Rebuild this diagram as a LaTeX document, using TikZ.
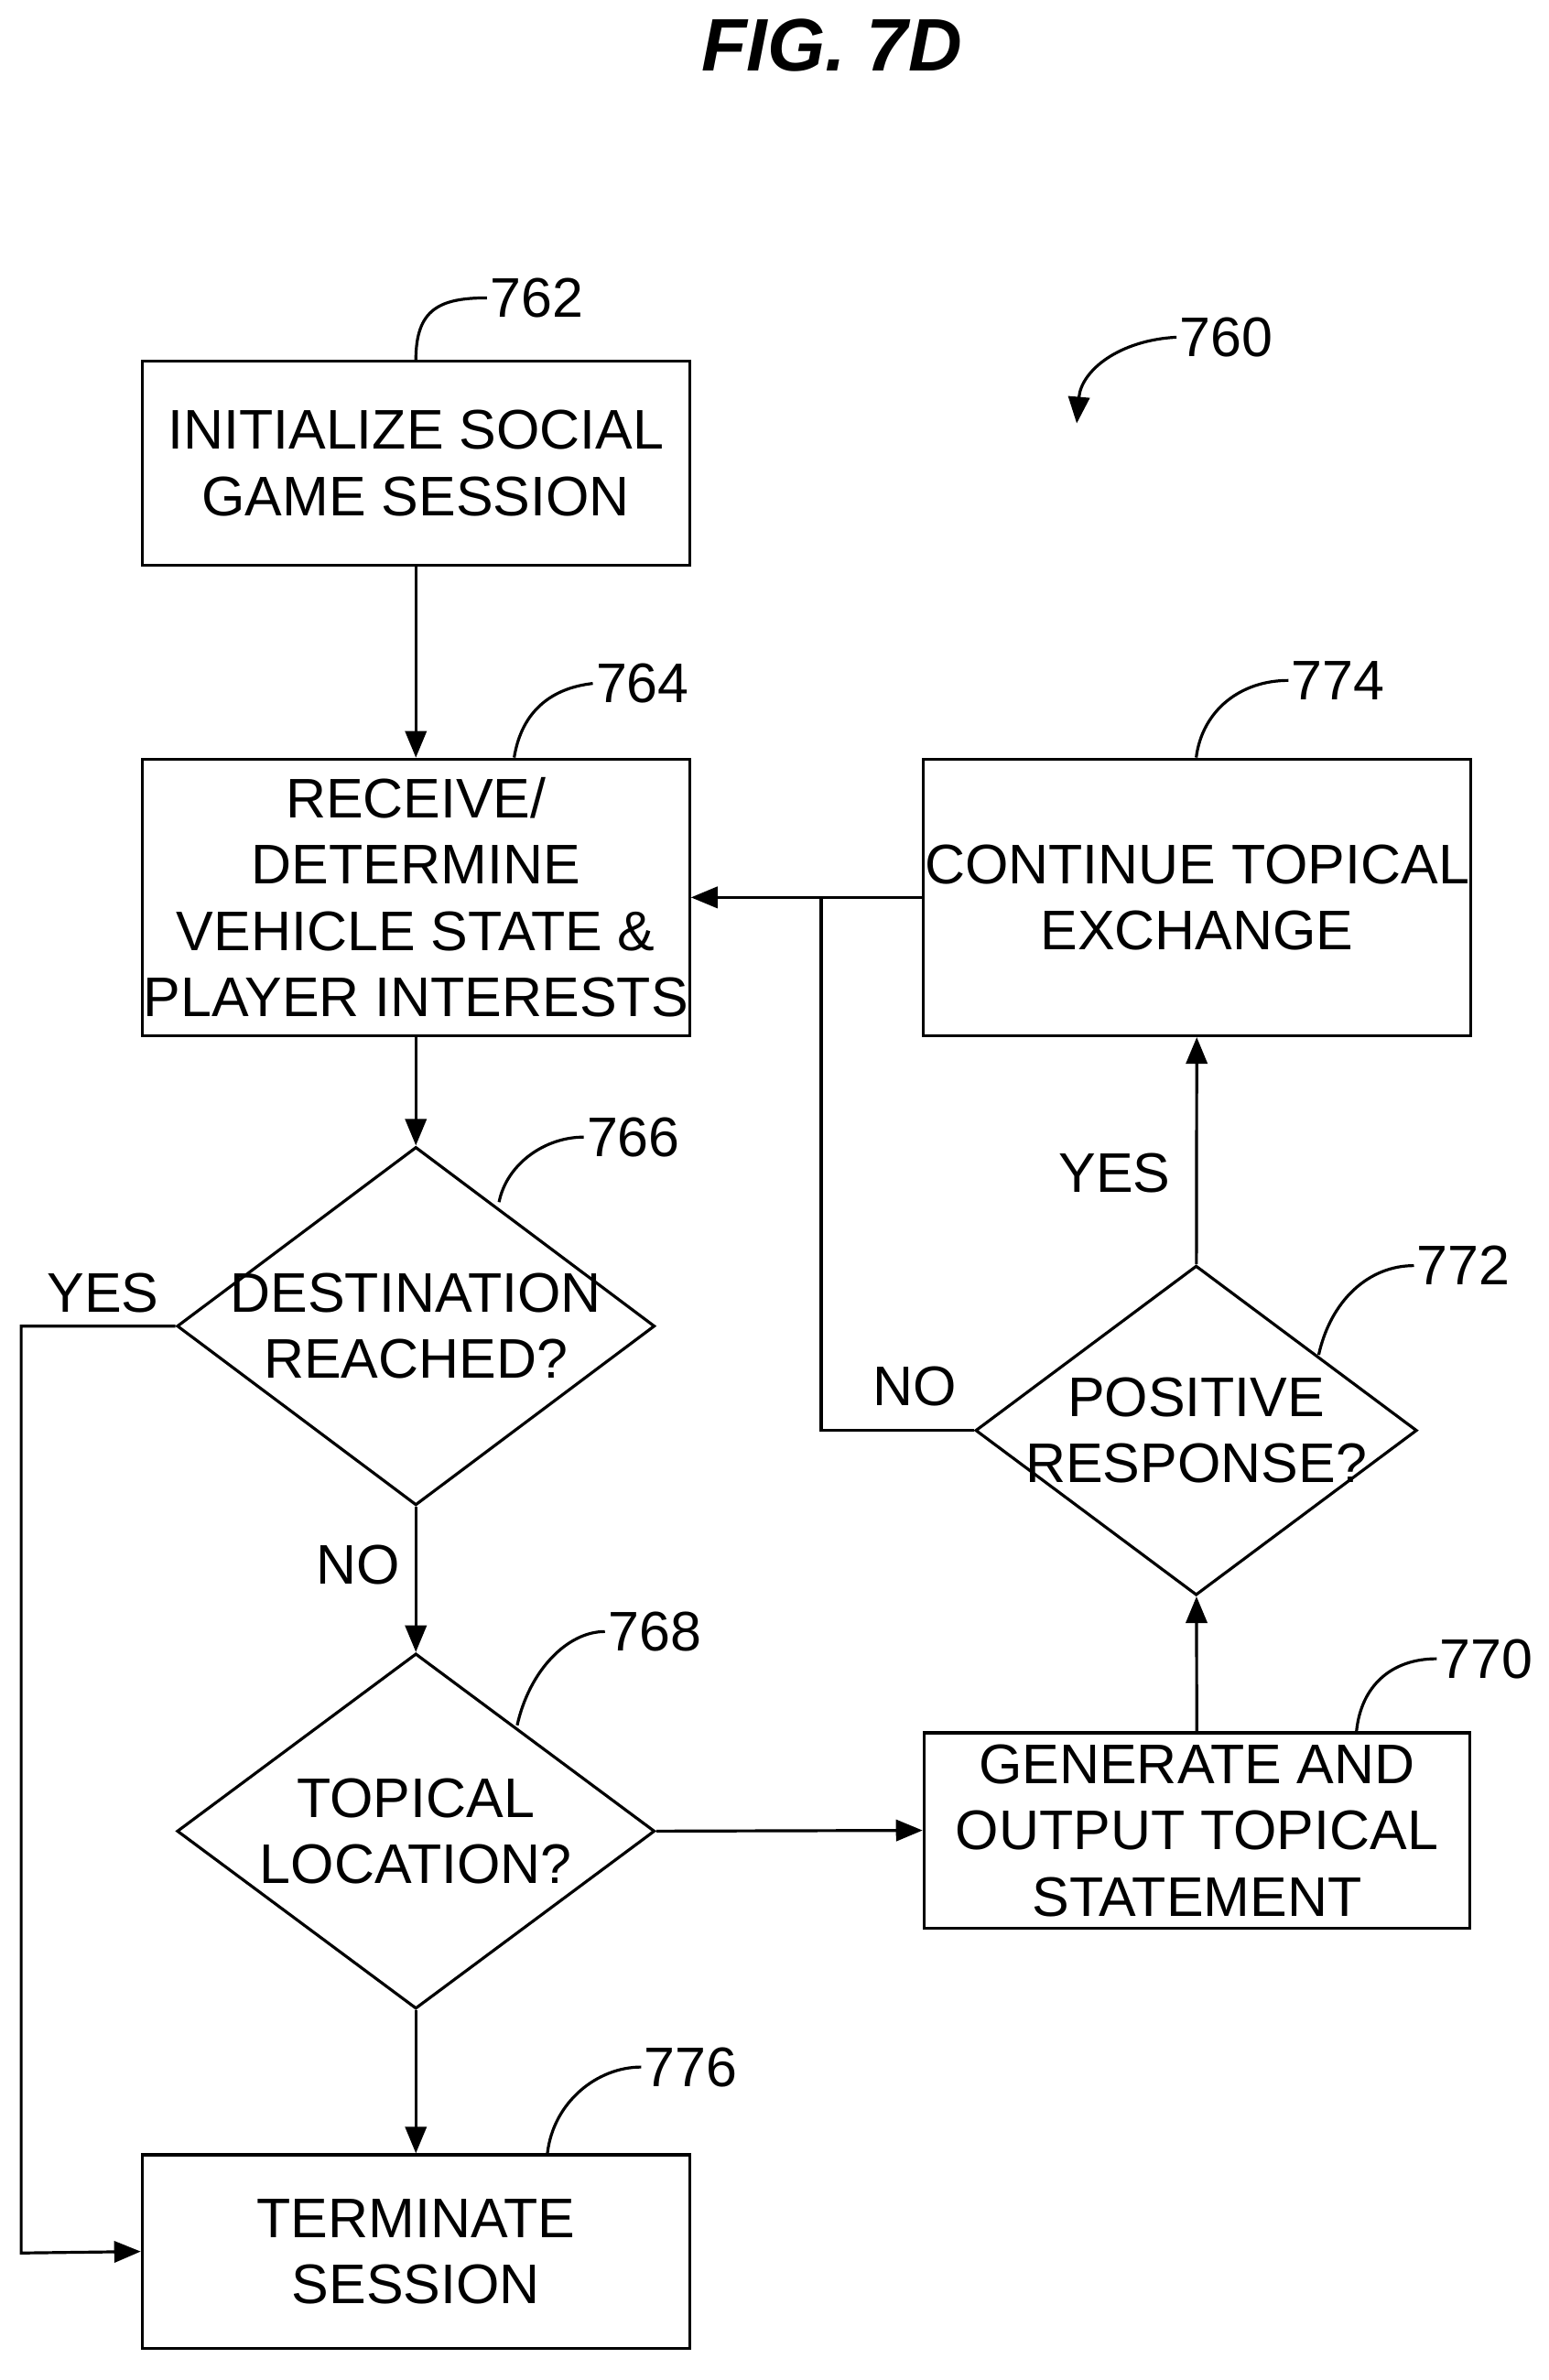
\documentclass[tikz,border=0pt]{standalone}
\usepackage{fontspec}
\setmainfont{Liberation Sans}
\usetikzlibrary{shapes.geometric,arrows.meta}
\begin{document}
\begin{tikzpicture}[x=0.02cm,y=-0.02cm,
  every node/.style={font=\fontsize{21}{25}\selectfont},
  box/.style={draw,line width=1.1pt,align=center,inner sep=0},
  dia/.style={draw,diamond,line width=1.1pt,inner sep=0,minimum width=#1},
  lbl/.style={inner sep=1pt},
  ln/.style={line width=1.1pt},
  arr/.style={ln,-{Triangle[length=10pt,width=8pt]}}]
\useasboundingbox (0,0) rectangle (1024,1574);
\node[font=\fontsize{28}{32}\selectfont\bfseries\itshape] (title) at (550,30) {FIG. 7D};
\node[box,minimum width=7.24cm,minimum height=2.7cm] (b762) at (275,306.5) {INITIALIZE SOCIAL\\GAME SESSION};
\node[box,minimum width=7.24cm,minimum height=3.66cm] (b764) at (275,593.5) {RECEIVE/\\DETERMINE\\VEHICLE STATE \&\\PLAYER INTERESTS};
\node[box,minimum width=7.24cm,minimum height=3.66cm] (b774) at (791.5,593.5) {CONTINUE TOPICAL\\EXCHANGE};
\node[box,minimum width=7.22cm,minimum height=2.58cm] (b770) at (791.5,1210.5) {GENERATE AND\\OUTPUT TOPICAL\\STATEMENT};
\node[box,minimum width=7.24cm,minimum height=2.56cm] (b776) at (275,1489) {TERMINATE\\SESSION};
\node[dia=6.32cm,minimum height=4.74cm,label={[align=center]center:DESTINATION\\REACHED?}] (d766) at (275,877) {};
\node[dia=6.32cm,minimum height=4.7cm,label={[align=center]center:TOPICAL\\LOCATION?}] (d768) at (275,1211) {};
\node[dia=5.84cm,minimum height=4.36cm,label={[align=center]center:POSITIVE\\RESPONSE?}] (d772) at (791,946) {};
% reference labels
\node[lbl,anchor=west] (n762) at (322,197) {762};
\node[lbl,anchor=west] (n764) at (392,452) {764};
\node[lbl,anchor=west] (n766) at (386,752) {766};
\node[lbl,anchor=west] (n768) at (400,1079) {768};
\node[lbl,anchor=west] (n776) at (424,1367) {776};
\node[lbl,anchor=west] (n770) at (950,1097) {770};
\node[lbl,anchor=west] (n772) at (935,837) {772};
\node[lbl,anchor=west] (n774) at (852,450) {774};
\node[lbl,anchor=west] (n760) at (778,223) {760};
\draw[ln] (b762.north) .. controls (275,205) and (290,197) .. (n762.west);
\draw[ln] (340,501) .. controls (345,470) and (365,455) .. (n764.west);
\draw[ln] (330,795) .. controls (335,770) and (360,752) .. (n766.west);
\draw[ln] (342,1141) .. controls (350,1105) and (375,1079) .. (n768.west);
\draw[ln] (362,1424) .. controls (366,1390) and (395,1367) .. (n776.west);
\draw[ln] (897,1145) .. controls (900,1115) and (920,1097) .. (n770.west);
\draw[ln] (872,896) .. controls (880,860) and (905,837) .. (n772.west);
\draw[ln] (791,501) .. controls (795,470) and (820,450) .. (n774.west);
\draw[arr] (n760.west) .. controls (740,225) and (715,245) .. (712,280);
% connectors
\draw[arr] (b762) -- (b764);
\draw[arr] (b764) -- (d766);
\draw[arr] (d766) -- node[pos=0.4,left=2pt] (no1) {NO} (d768);
\draw[arr] (d768) -- (b776);
\draw[arr] (d766.west) -- (14,877) -- (14,1490) -- (b776.west);
\node (yes1) at (68,855) {YES};
\draw[arr] (d768.east) -- (b770.west);
\draw[arr] (b770) -- (d772);
\draw[arr] (d772) -- node[pos=0.4,left=6pt] (yes2) {YES} (b774);
\draw[arr] (b774.west) -- (b764.east);
\draw[ln] (d772.west) -- (543,946) -- (543,593.5);
\node (no2) at (605,917) {NO};
\end{tikzpicture}
\end{document}
